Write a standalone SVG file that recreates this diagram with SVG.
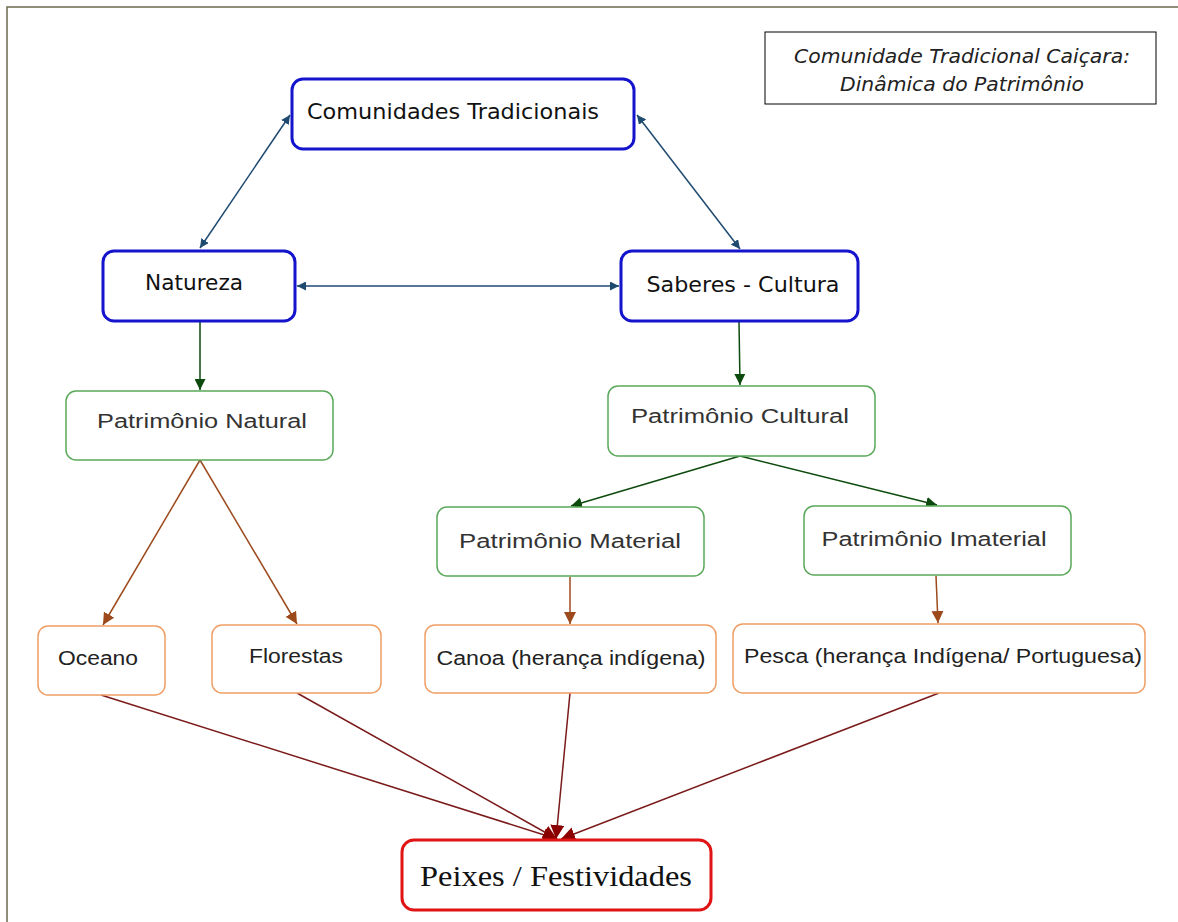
<svg xmlns="http://www.w3.org/2000/svg" width="1178" height="922" viewBox="0 0 1178 922">
<style>
.bg{fill:#ffffff}
.frame{fill:none;stroke:#6b6b4e;stroke-width:1.5}
.blue{fill:#ffffff;stroke:#1414cc;stroke-width:3}
.green{fill:#ffffff;stroke:#5aa85a;stroke-width:1.5}
.orange{fill:#ffffff;stroke:#ef9f66;stroke-width:1.5}
.red{fill:#ffffff;stroke:#e01414;stroke-width:3}
.title{fill:#ffffff;stroke:#000000;stroke-width:1}
.tb{font-family:"DejaVu Sans","Liberation Sans",sans-serif;font-size:21px;fill:#111111;text-anchor:middle}
.tg{font-family:"Liberation Sans","DejaVu Sans",sans-serif;font-size:20px;fill:#333333;text-anchor:middle}
.to{font-family:"Liberation Sans","DejaVu Sans",sans-serif;font-size:20px;fill:#222222;text-anchor:middle}
.tr{font-family:"Liberation Serif","DejaVu Serif",serif;font-size:30px;fill:#111111;text-anchor:middle}
.tt{font-family:"DejaVu Sans","Liberation Sans",sans-serif;font-style:italic;font-size:20px;fill:#222222;text-anchor:middle}
.cb{fill:none;stroke:#1f4a70;stroke-width:1.5}
.cg{fill:none;stroke:#0d4a0d;stroke-width:1.5}
.co{fill:none;stroke:#9c4a1c;stroke-width:1.5}
.cr{fill:none;stroke:#7a1a1a;stroke-width:1.5}
</style>
<defs>
<marker id="ab" viewBox="0 0 10 10" refX="10" refY="5" markerWidth="9" markerHeight="9" markerUnits="userSpaceOnUse" orient="auto-start-reverse"><path d="M0,0 L10,5 L0,10 z" fill="#1f4a70"/></marker>
<marker id="ag" viewBox="0 0 10 10" refX="10" refY="5" markerWidth="11" markerHeight="11" markerUnits="userSpaceOnUse" orient="auto"><path d="M0,0 L10,5 L0,10 z" fill="#0d4a0d"/></marker>
<marker id="ao" viewBox="0 0 10 10" refX="10" refY="5" markerWidth="12" markerHeight="12" markerUnits="userSpaceOnUse" orient="auto"><path d="M0,0 L10,5 L0,10 z" fill="#9c4a1c"/></marker>
<marker id="ar" viewBox="0 0 10 10" refX="10" refY="5" markerWidth="14" markerHeight="14" markerUnits="userSpaceOnUse" orient="auto"><path d="M0,0 L10,5 L0,10 z" fill="#8b0000"/></marker>
</defs>
<rect class="bg" x="0" y="0" width="1178" height="922"/>
<path class="frame" d="M7,930 L7,7 L1180,7"/>

<g id="connectors">
<line class="cb" x1="290" y1="115" x2="200" y2="248" marker-start="url(#ab)" marker-end="url(#ab)"/>
<line class="cb" x1="637" y1="115" x2="740" y2="249" marker-start="url(#ab)" marker-end="url(#ab)"/>
<line class="cb" x1="297" y1="286" x2="619" y2="286" marker-start="url(#ab)" marker-end="url(#ab)"/>
<line class="cg" x1="200" y1="322" x2="200" y2="390" marker-end="url(#ag)"/>
<line class="cg" x1="739" y1="322" x2="740" y2="385" marker-end="url(#ag)"/>
<line class="cg" x1="740" y1="456" x2="571" y2="506" marker-end="url(#ag)"/>
<line class="cg" x1="740" y1="456" x2="937" y2="505" marker-end="url(#ag)"/>
<line class="co" x1="200" y1="460" x2="103" y2="625" marker-end="url(#ao)"/>
<line class="co" x1="200" y1="460" x2="297" y2="624" marker-end="url(#ao)"/>
<line class="co" x1="570" y1="577" x2="570" y2="624" marker-end="url(#ao)"/>
<line class="co" x1="936" y1="576" x2="938" y2="623" marker-end="url(#ao)"/>
<line class="cr" x1="101" y1="695" x2="557" y2="839" marker-end="url(#ar)"/>
<line class="cr" x1="297" y1="693" x2="557" y2="839" marker-end="url(#ar)"/>
<line class="cr" x1="570" y1="693" x2="556" y2="839" marker-end="url(#ar)"/>
<line class="cr" x1="939" y1="693" x2="561" y2="839" marker-end="url(#ar)"/>
</g>

<g id="title">
<rect class="title" x="765" y="32" width="391" height="72"/>
<text class="tt" x="962" y="63" textLength="336" lengthAdjust="spacingAndGlyphs">Comunidade Tradicional Caiçara:</text>
<text class="tt" x="962" y="91" textLength="244" lengthAdjust="spacingAndGlyphs">Dinâmica do Patrimônio</text>
</g>

<g id="n-comunidades">
<rect class="blue" x="292" y="79" width="342" height="70" rx="11"/>
<text class="tb" x="453" y="119" textLength="292" lengthAdjust="spacingAndGlyphs">Comunidades Tradicionais</text>
</g>
<g id="n-natureza">
<rect class="blue" x="103" y="251" width="192" height="70" rx="11"/>
<text class="tb" x="194" y="290" textLength="98" lengthAdjust="spacingAndGlyphs">Natureza</text>
</g>
<g id="n-saberes">
<rect class="blue" x="621" y="251" width="237" height="70" rx="11"/>
<text class="tb" x="743" y="292" textLength="193" lengthAdjust="spacingAndGlyphs">Saberes - Cultura</text>
</g>
<g id="n-patr-natural">
<rect class="green" x="66" y="391" width="267" height="69" rx="10"/>
<text class="tg" x="202" y="428" textLength="210" lengthAdjust="spacingAndGlyphs">Patrimônio Natural</text>
</g>
<g id="n-patr-cultural">
<rect class="green" x="608" y="386" width="267" height="70" rx="10"/>
<text class="tg" x="740" y="423" textLength="218" lengthAdjust="spacingAndGlyphs">Patrimônio Cultural</text>
</g>
<g id="n-patr-material">
<rect class="green" x="437" y="507" width="267" height="69" rx="10"/>
<text class="tg" x="570" y="548" textLength="222" lengthAdjust="spacingAndGlyphs">Patrimônio Material</text>
</g>
<g id="n-patr-imaterial">
<rect class="green" x="804" y="506" width="267" height="69" rx="10"/>
<text class="tg" x="934" y="546" textLength="225" lengthAdjust="spacingAndGlyphs">Patrimônio Imaterial</text>
</g>
<g id="n-oceano">
<rect class="orange" x="38" y="626" width="127" height="69" rx="10"/>
<text class="to" x="98" y="665" textLength="80" lengthAdjust="spacingAndGlyphs">Oceano</text>
</g>
<g id="n-florestas">
<rect class="orange" x="212" y="625" width="169" height="68" rx="10"/>
<text class="to" x="296" y="663" textLength="94" lengthAdjust="spacingAndGlyphs">Florestas</text>
</g>
<g id="n-canoa">
<rect class="orange" x="425" y="625" width="291" height="68" rx="10"/>
<text class="to" x="571" y="665" textLength="269" lengthAdjust="spacingAndGlyphs">Canoa (herança indígena)</text>
</g>
<g id="n-pesca">
<rect class="orange" x="733" y="624" width="412" height="69" rx="10"/>
<text class="to" x="943" y="663" textLength="398" lengthAdjust="spacingAndGlyphs">Pesca (herança Indígena/ Portuguesa)</text>
</g>
<g id="n-peixes">
<rect class="red" x="402" y="840" width="309" height="70" rx="12"/>
<text class="tr" x="556" y="886" textLength="272" lengthAdjust="spacingAndGlyphs">Peixes / Festividades</text>
</g>
</svg>
